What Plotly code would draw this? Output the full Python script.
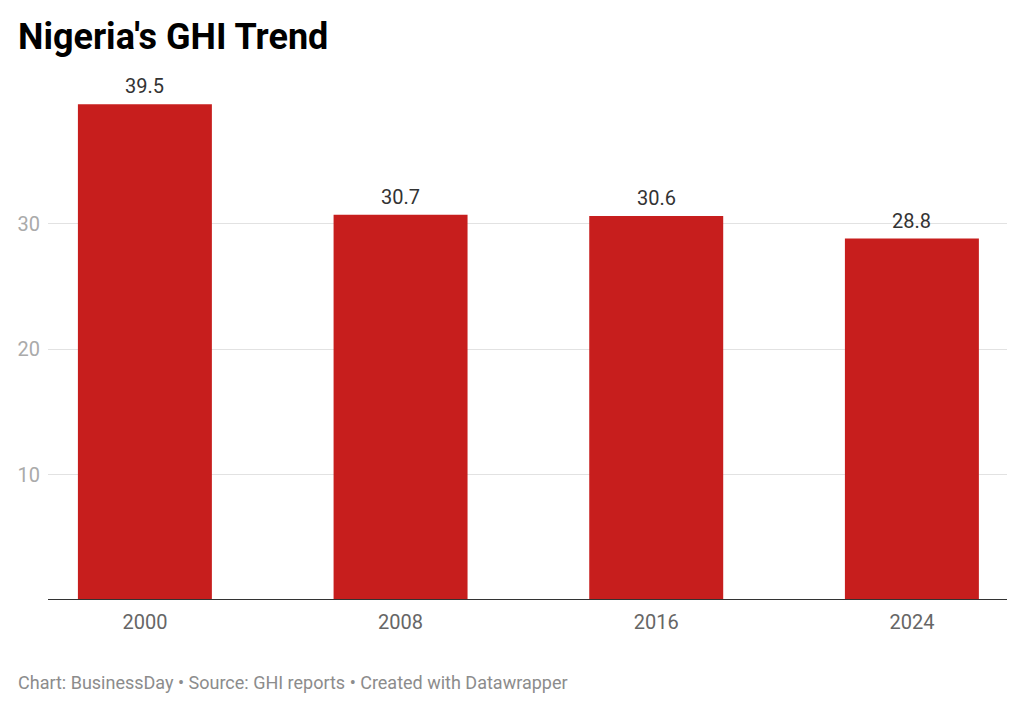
import plotly.graph_objects as go

years = ["2000", "2008", "2016", "2024"]
ghi = [39.5, 30.7, 30.6, 28.8]
y_ticks = [10, 20, 30]
title = "Nigeria's GHI Trend"
footer = "Chart: BusinessDay • Source: GHI reports • Created with Datawrapper"

OFF = 8  # page body margin
W, H = 1024 - OFF, 710 - OFF
L = 48 - OFF
T = 80 - OFF
R = W - (1007 - OFF)
B = H - (600 - OFF)
pw, ph = W - L - R, H - T - B

def px_x(p):
    return (p - 48) / pw

def px_y(p):
    return (600 - p) / ph

fig = go.Figure()
fig.add_trace(go.Bar(
    x=years, y=ghi,
    marker=dict(color="#c71e1d", line=dict(width=0)),
    hoverinfo="skip",
))

for i, v in enumerate(ghi):
    fig.add_annotation(
        x=i, y=v, xref="x", yref="y", text=f"{v}",
        showarrow=False, yanchor="bottom", yshift=4,
        font=dict(family="Roboto", size=20, color="#333333"),
    )

fig.add_annotation(
    x=px_x(16), y=px_y(37), xref="paper", yref="paper",
    text=f"<b>{title}</b>", showarrow=False,
    xanchor="left", yanchor="middle",
    font=dict(family="Roboto", size=36, color="#000000"),
)
fig.add_annotation(
    x=px_x(16), y=px_y(683), xref="paper", yref="paper",
    text=footer, showarrow=False,
    xanchor="left", yanchor="middle",
    font=dict(family="Roboto", size=18, color="#8c8c8c"),
)

fig.add_shape(type="line", xref="paper", yref="y", x0=0, x1=1, y0=0, y1=0,
              line=dict(color="#333333", width=2))

fig.update_layout(
    width=W, height=H,
    margin=dict(l=L, r=R, t=T, b=B, pad=0, autoexpand=False),
    paper_bgcolor="white", plot_bgcolor="white",
    bargap=0.476,
    showlegend=False,
    xaxis=dict(
        type="category", range=[-0.379, 3.372],
        showgrid=False, zeroline=False, showline=False, ticks="",
        tickfont=dict(family="Roboto", size=20, color="#666666"),
        ticklabelstandoff=8, automargin=False,
    ),
    yaxis=dict(
        range=[0, ph / 12.55], tickvals=y_ticks,
        showgrid=True, gridcolor="#e2e2e2", gridwidth=1,
        zeroline=False, showline=False, ticks="",
        tickfont=dict(family="Roboto", size=20, color="#aaaaaa"),
        ticklabelstandoff=7, automargin=False,
    ),
)

fig.write_html("out.html")
